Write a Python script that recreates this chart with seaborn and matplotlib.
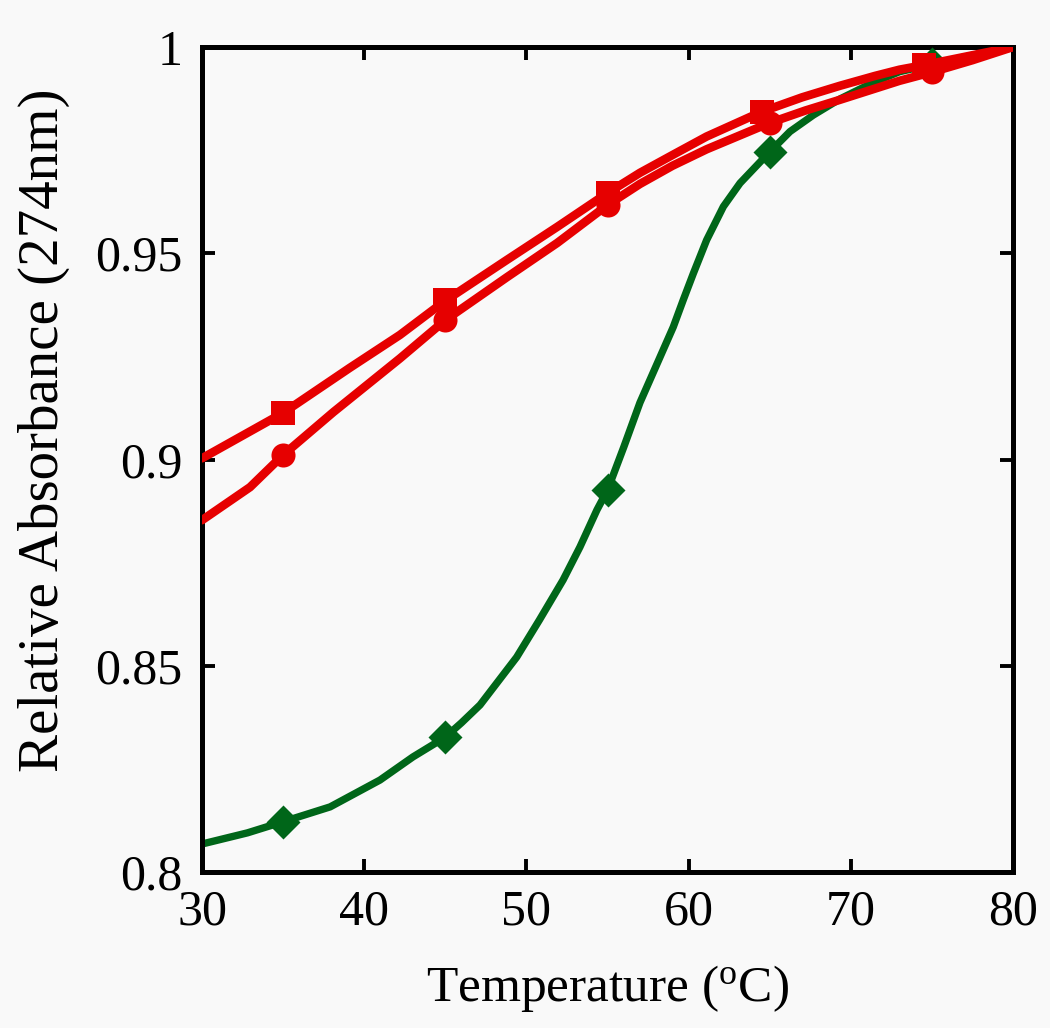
import matplotlib
matplotlib.use("Agg")
import matplotlib.pyplot as plt
import seaborn as sns
import numpy as np
import pandas as pd

# ---- data ----
sq_line_x = [30, 35, 39.1, 42.2, 45, 48.8, 51.9, 55, 57.0, 59.0, 61.11, 64.5, 67.0, 69.33, 71.5, 73.0, 74.5, 77.0, 80]
sq_line_y = [0.9003, 0.9113, 0.9222, 0.9302, 0.9385, 0.9484, 0.9564, 0.9646, 0.9695, 0.9738, 0.9783, 0.9843, 0.9878, 0.9906, 0.9930, 0.9945, 0.9956, 0.9976, 1.0]

ci_line_x = [30, 32.96, 35, 38.1, 42.2, 45, 48.8, 51.9, 55, 57.0, 59.0, 61.11, 65, 67.2, 69.33, 73.0, 75, 77.5, 80]
ci_line_y = [0.8853, 0.8933, 0.9011, 0.9115, 0.9245, 0.9338, 0.9442, 0.9525, 0.9617, 0.9668, 0.9712, 0.9752, 0.9816, 0.9846, 0.9872, 0.9918, 0.9939, 0.9968, 1.0]

gr_line_x = [30, 32.8, 35, 37.9, 40.97, 43.0, 45, 46.0, 47.14, 49.4, 50.8, 52.26, 53.3, 54.35, 55, 56.0, 57.0, 59.05, 59.67, 60.29, 61.11, 62.14, 63.17, 64.91, 66.25, 67.69, 69.33, 71.39, 73.0, 75, 77.5, 80]
gr_line_y = [0.8068, 0.8095, 0.8122, 0.8158, 0.8223, 0.8279, 0.8327, 0.8362, 0.8405, 0.8521, 0.8611, 0.8708, 0.8788, 0.8878, 0.8926, 0.9030, 0.9138, 0.9321, 0.9387, 0.9451, 0.9532, 0.9613, 0.9670, 0.9742, 0.9795, 0.9835, 0.9874, 0.9914, 0.9940, 0.9958, 0.9980, 1.0]

sq_mark_x = [35, 45, 55, 64.5, 74.5]
sq_mark_y = [0.9113, 0.9387, 0.9646, 0.9843, 0.9956]
ci_mark_x = [35, 45, 55, 65, 75]
ci_mark_y = [0.9011, 0.9338, 0.9617, 0.9816, 0.9939]
gr_mark_x = [35, 45, 55, 65, 75]
gr_mark_y = [0.8122, 0.8327, 0.8926, 0.9745, 0.9958]

x_ticks = [30, 40, 50, 60, 70, 80]
x_tick_labels = ["30", "40", "50", "60", "70", "80"]
y_ticks = [0.8, 0.85, 0.9, 0.95, 1.0]
y_tick_labels = ["0.8", "0.85", "0.9", "0.95", "1"]

RED = "#e60000"
GREEN = "#006619"
BG = "#f9f9f9"

sns.set_theme(style="white")
plt.rcParams["font.family"] = ["Liberation Serif", "DejaVu Serif"]
plt.rcParams["mathtext.fontset"] = "custom"
plt.rcParams["mathtext.rm"] = "Liberation Serif"

fig = plt.figure(figsize=(10.5, 10.28), dpi=100, facecolor=BG)
ax = fig.add_axes([0.1924, 0.1517, 0.7724, 0.8026])
ax.set_facecolor(BG)

sns.lineplot(x=gr_line_x, y=gr_line_y, color=GREEN, linewidth=5.3, ax=ax, sort=False, zorder=2)
sns.scatterplot(x=gr_mark_x, y=gr_mark_y, color=GREEN, marker="D", s=300, linewidth=0, ax=ax, zorder=3)
sns.lineplot(x=ci_line_x, y=ci_line_y, color=RED, linewidth=6.2, ax=ax, sort=False, zorder=4)
sns.scatterplot(x=ci_mark_x, y=ci_mark_y, color=RED, marker="o", s=300, linewidth=0, ax=ax, zorder=5)
sns.lineplot(x=sq_line_x, y=sq_line_y, color=RED, linewidth=6.2, ax=ax, sort=False, zorder=4)
sns.scatterplot(x=sq_mark_x, y=sq_mark_y, color=RED, marker="s", s=300, linewidth=0, ax=ax, zorder=5)

ax.set_xlim(30, 80)
ax.set_ylim(0.8, 1.0)
ax.set_xticks(x_ticks)
ax.set_xticklabels(x_tick_labels)
ax.set_yticks(y_ticks)
ax.set_yticklabels(y_tick_labels)

for sp in ax.spines.values():
    sp.set_visible(True)
    sp.set_color("black")
    sp.set_linewidth(3.6)

ax.tick_params(axis="both", which="major", direction="in", length=9.5, width=2.8,
               colors="black", labelsize=36, top=True, right=True,
               bottom=True, left=True)
ax.tick_params(axis="x", pad=12)
ax.tick_params(axis="y", pad=14)

ax.set_xlabel(r"Temperature ($\mathregular{^o}$C)", fontsize=37, color="black", labelpad=20)
ax.set_ylabel("Relative Absorbance (274nm)", fontsize=41, color="black")
ax.yaxis.set_label_coords(-0.163, 0.535)

fig.savefig("out.png", dpi=100, facecolor=BG)
